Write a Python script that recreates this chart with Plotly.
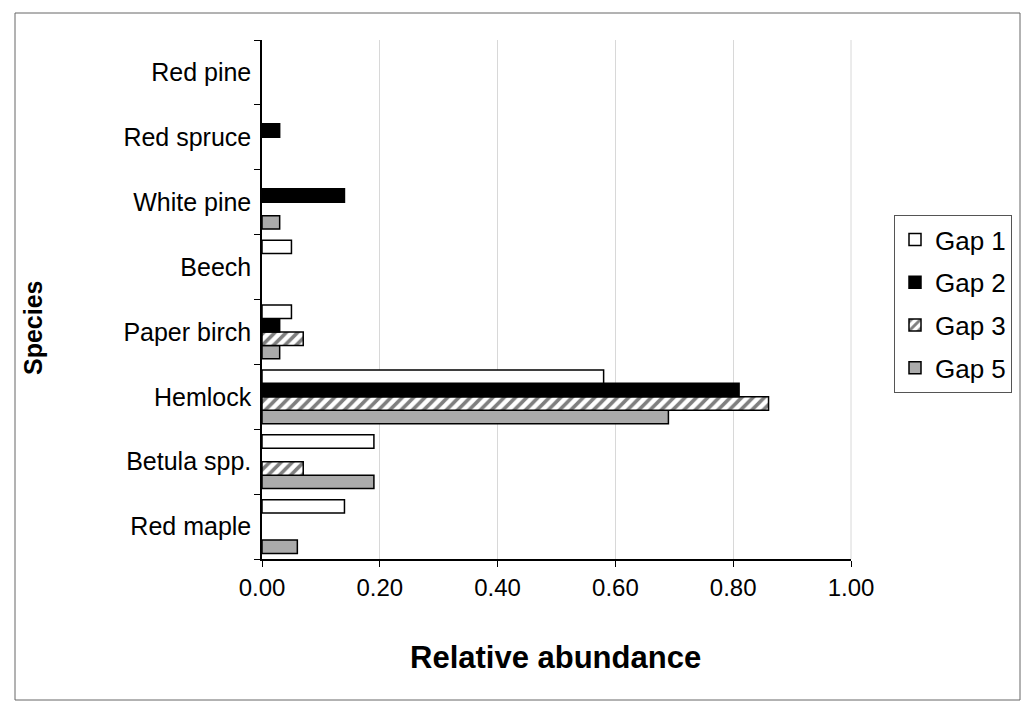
import plotly.graph_objects as go

species = ["Red maple", "Betula spp.", "Hemlock", "Paper birch", "Beech",
           "White pine", "Red spruce", "Red pine"]
gap1 = [0.14, 0.19, 0.58, 0.05, 0.05, 0.00, 0.00, 0.00]
gap2 = [0.00, 0.00, 0.81, 0.03, 0.00, 0.14, 0.03, 0.00]
gap3 = [0.00, 0.07, 0.86, 0.07, 0.00, 0.00, 0.00, 0.00]
gap5 = [0.06, 0.19, 0.69, 0.03, 0.00, 0.03, 0.00, 0.00]
x_ticks = [0.0, 0.2, 0.4, 0.6, 0.8, 1.0]

FONT = "Liberation Sans, Arial, sans-serif"


def nz(vals):
    # zero abundance draws no bar at all
    return [v if v > 0 else None for v in vals]


fig = go.Figure()
# added bottom-to-top so Gap 1 sits on top of each group
fig.add_trace(go.Bar(name="Gap 5", y=species, x=nz(gap5), orientation="h",
                     marker=dict(color="#ababab", line=dict(color="black", width=1.5)),
                     legendgroup="g5", legendrank=4))
fig.add_trace(go.Bar(name="Gap 3", y=species, x=nz(gap3), orientation="h",
                     marker=dict(color="white", line=dict(color="black", width=1.5),
                                 pattern=dict(shape="/", fgcolor="black", bgcolor="white",
                                              size=8, solidity=0.45)),
                     legendgroup="g3", legendrank=3))
fig.add_trace(go.Bar(name="Gap 2", y=species, x=nz(gap2), orientation="h",
                     marker=dict(color="black", line=dict(color="black", width=1.5)),
                     legendgroup="g2", legendrank=2))
fig.add_trace(go.Bar(name="Gap 1", y=species, x=nz(gap1), orientation="h",
                     marker=dict(color="white", line=dict(color="black", width=1.5)),
                     legendgroup="g1", legendrank=1))

W, H = 1033, 712
L, R, T, B = 262, 182, 40, 153
pw, ph = W - L - R, H - T - B


def px_x(x):
    return (x - L) / pw


def px_y(y):
    return (H - B - y) / ph


fig.update_layout(
    width=W, height=H,
    margin=dict(l=L, r=R, t=T, b=B),
    paper_bgcolor="white", plot_bgcolor="white",
    barmode="group", bargap=0.17, bargroupgap=0.0,
    font=dict(family=FONT, size=25, color="black"),
    showlegend=True,
    legend=dict(x=px_x(894), y=px_y(215), xanchor="left", yanchor="top",
                traceorder="grouped", tracegroupgap=6,
                bordercolor="#555555", borderwidth=1, bgcolor="white",
                font=dict(size=26), itemwidth=30),
    xaxis=dict(range=[0, 1], tickvals=x_ticks, tickformat=".2f",
               showgrid=True, gridcolor="#d8d8d8", gridwidth=1,
               showline=True, linecolor="black", linewidth=1.5,
               ticks="outside", ticklen=6, tickcolor="black",
               tickfont=dict(size=24), zeroline=False, fixedrange=True),
    yaxis=dict(categoryorder="array", categoryarray=species,
               showline=True, linecolor="black", linewidth=1.5,
               ticks="outside", ticklen=6, tickcolor="black",
               tickson="boundaries", showgrid=False,
               tickfont=dict(size=25), ticklabelstandoff=4, fixedrange=True),
    annotations=[
        dict(text="<b>Species</b>", xref="paper", yref="paper",
             x=px_x(33), y=px_y(328), textangle=-90, showarrow=False,
             font=dict(size=25), xanchor="center", yanchor="middle"),
        dict(text="<b>Relative abundance</b>", xref="paper", yref="paper",
             x=px_x(555), y=px_y(657), showarrow=False,
             font=dict(size=31), xanchor="center", yanchor="middle"),
    ],
    shapes=[
        dict(type="rect", xref="paper", yref="paper",
             x0=px_x(15), x1=px_x(1020), y0=px_y(700), y1=px_y(13),
             line=dict(color="#666666", width=1)),
        dict(type="line", xref="paper", yref="paper",
             x0=1, x1=1, y0=0, y1=1, line=dict(color="#d8d8d8", width=1)),
    ],
)

fig.write_html("out.html")
